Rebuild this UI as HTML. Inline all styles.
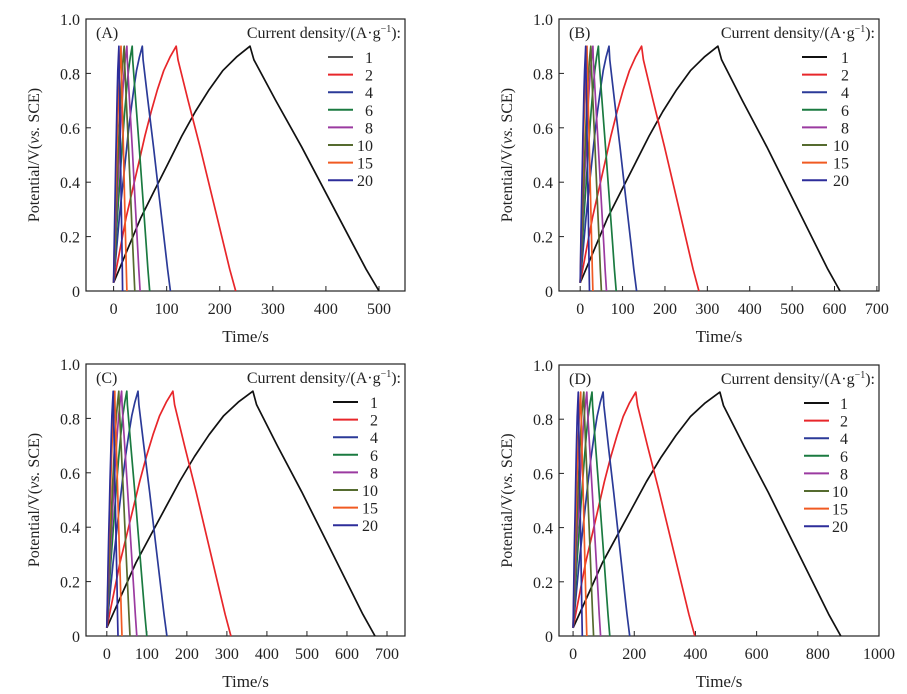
<!DOCTYPE html>
<html><head><meta charset="utf-8"><style>
html,body{margin:0;padding:0;background:#fff;}
svg{display:block;font-family:"Liberation Serif",serif;}
</style></head><body>
<svg id="chart" width="907" height="694" viewBox="0 0 907 694"></svg>
<script>
const densities=["1","2","4","6","8","10","15","20"];
const colors=["#111111","#e8262a","#2b3a98","#1a7a40","#9b3aa0","#556b2f","#f05a22","#2d2d9a"];
const chargeA=[257,118,54,35,25,20,14,10];
const endA=[500,230,107,68,50,40,25,17];
const chargeB=[325,145,68,43,30,25,16,13];
const endB=[613,280,133,85,62,50,30,22];
const chargeC=[365,165,78,50,37,30,20,16];
const endC=[670,310,150,100,75,58,38,28];
const chargeD=[480,205,98,62,45,35,25,17];
const endD=[875,398,185,120,90,67,45,30];
const chargeFrac=[0,0.1,0.2,0.3,0.4,0.5,0.6,0.7,0.8,0.9,1];
const chargeV=[0.03,0.15,0.27,0.37,0.47,0.57,0.66,0.74,0.81,0.86,0.9];
const dischFrac=[0,0.03,0.2,0.4,0.6,0.8,0.9,1];
const dischV=[0.9,0.85,0.7,0.53,0.35,0.17,0.08,0];
const ticksA=[0,100,200,300,400,500];
const ticksB=[0,100,200,300,400,500,600,700];
const ticksC=[0,100,200,300,400,500,600,700];
const ticksD=[0,200,400,600,800,1000];
const yTicks=[0,0.2,0.4,0.6,0.8,1.0];

const NS="http://www.w3.org/2000/svg";
const svg=document.getElementById('chart');
function mk(tag,attrs,parent){const e=document.createElementNS(NS,tag);for(const k in attrs)e.setAttribute(k,attrs[k]);(parent||svg).appendChild(e);return e;}

const panels=[
 {id:'a',label:'(A)',x0:86,x1:405,y0:19,y1:291,dmin:-52,dmax:549,ticks:ticksA,charge:chargeA,end:endA,legX:328,numX:373,legend1:'#555'},
 {id:'b',label:'(B)',x0:559,x1:879,y0:19,y1:291,dmin:-50,dmax:705,ticks:ticksB,charge:chargeB,end:endB,legX:802,numX:849},
 {id:'c',label:'(C)',x0:86,x1:405,y0:364,y1:636,dmin:-52,dmax:745,ticks:ticksC,charge:chargeC,end:endC,legX:333,numX:378},
 {id:'d',label:'(D)',x0:559,x1:879,y0:365,y1:636,dmin:-46,dmax:1000,ticks:ticksD,charge:chargeD,end:endD,legX:804,numX:848}
];

panels.forEach(p=>{
 const g=mk('g',{});
 
 
 const sx=v=>p.x0+(v-p.dmin)/(p.dmax-p.dmin)*(p.x1-p.x0);
 const sy=v=>p.y1-v*(p.y1-p.y0);
 const frame=mk('rect',{x:p.x0,y:p.y0,width:p.x1-p.x0,height:p.y1-p.y0,fill:'none',stroke:'#222','stroke-width':1.2},g);
 
 
 p.ticks.forEach(t=>{
  const x=sx(t);
  const tk=mk('line',{x1:x,x2:x,y1:p.y1,y2:p.y1-5,stroke:'#222','stroke-width':1},g);
  
  
  const tl=mk('text',{x:x,y:p.y1+23,'text-anchor':'middle','font-size':16,fill:'#222'},g);
  tl.textContent=String(t);
  
  
 });
 yTicks.forEach(t=>{
  const y=sy(t);
  const tk=mk('line',{x1:p.x0,x2:p.x0+5,y1:y,y2:y,stroke:'#222','stroke-width':1},g);
  
  
  const tl=mk('text',{x:p.x0-6,y:y+6,'text-anchor':'end','font-size':16,fill:'#222'},g);
  tl.textContent=t===0?'0':t.toFixed(1);
  
  
 });
 const xt=mk('text',{x:(p.x0+p.x1)/2,y:p.y1+51,'text-anchor':'middle','font-size':17,fill:'#222'},g);
 xt.textContent='Time/s';
 
 
 const yc=(p.y0+p.y1)/2, yx=p.x0-47;
 const yt=mk('text',{x:yx,y:yc,'text-anchor':'middle','font-size':16,fill:'#222',transform:`rotate(-90 ${yx} ${yc})`},g);
 yt.innerHTML='Potential/V(<tspan font-style="italic">vs.</tspan> SCE)';
 
 
 const pl=mk('text',{x:p.x0+10,y:p.y0+19,'font-size':16,fill:'#222'},g);
 pl.textContent=p.label;
 
 
 const lh=mk('text',{x:p.x1-4,y:p.y0+19,'text-anchor':'end','font-size':16,fill:'#222'},g);
 lh.innerHTML='Current density/(A·g<tspan font-size="10" dy="-6">−1</tspan><tspan dy="6">):</tspan>';
 
 
 densities.forEach((d,i)=>{
  const tc=p.charge[i], te=p.end[i];
  const pts=[];
  chargeFrac.forEach((f,k)=>pts.push([sx(f*tc),sy(chargeV[k])]));
  dischFrac.forEach((f,k)=>{if(k>0)pts.push([sx(tc+f*(te-tc)),sy(dischV[k])]);});
  const path=mk('path',{d:'M'+pts.map(q=>q[0].toFixed(1)+','+q[1].toFixed(1)).join(' L'),fill:'none',stroke:colors[i],'stroke-width':1.7,'stroke-linejoin':'round'},g);
  
  
  const ly=p.y0+38+i*17.6;
  const ll=mk('line',{x1:p.legX,x2:p.legX+25,y1:ly,y2:ly,stroke:(i===0&&p.legend1)?p.legend1:colors[i],'stroke-width':2},g);
  
  
  const lt=mk('text',{x:p.numX,y:ly+6,'text-anchor':'end','font-size':16,fill:'#222'},g);
  lt.textContent=d;
  
  
 });
});
</script>
</body></html>
